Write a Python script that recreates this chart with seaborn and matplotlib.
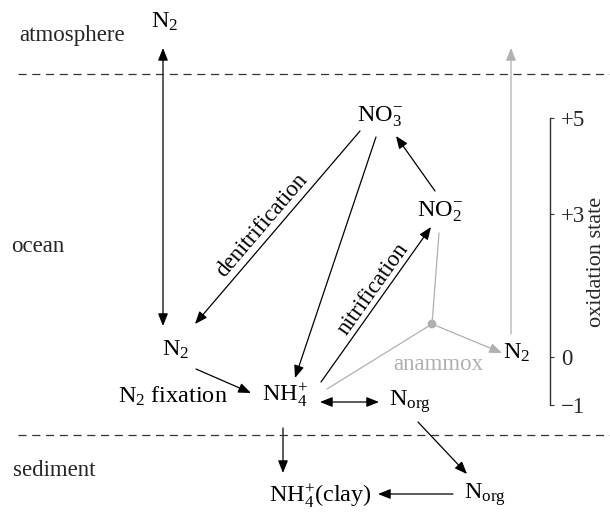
import matplotlib
matplotlib.use("Agg")
import matplotlib.pyplot as plt
import seaborn as sns
from matplotlib.patches import FancyArrowPatch

sns.set_theme(style="white")
plt.rcParams['font.family'] = ['Liberation Serif', 'DejaVu Serif']
plt.rcParams['mathtext.fontset'] = 'custom'
plt.rcParams['mathtext.rm'] = 'Liberation Serif'
plt.rcParams['mathtext.it'] = 'Liberation Serif:italic'
plt.rcParams['mathtext.bf'] = 'Liberation Serif:bold'

# -----------------------------
# DATA
# -----------------------------

# Layers of the system
layer_names = ["atmosphere", "ocean", "sediment"]
layer_x = [72, 38, 54]
layer_y = [35, 246, 470]
boundary_y = [74, 435]

# Nitrogen species (labels and where they sit)
species_labels = [r"$\mathrm{N_2}$", r"$\mathrm{NO_3^{-}}$", r"$\mathrm{NO_2^{-}}$",
                  r"$\mathrm{N_2}$", r"$\mathrm{N_2}$", r"$\mathrm{NH_4^{+}}$",
                  r"$\mathrm{N_{org}}$", r"$\mathrm{NH_4^{+}}$(clay)", r"$\mathrm{N_{org}}$",
                  r"$\mathrm{N_2}$ fixation"]
species_x = [165, 380, 440, 176, 517, 285, 410, 320, 485, 173]
species_y = [22, 117, 212, 350, 353, 395, 402, 496, 495, 396]

# Processes: start, end, style, colour
arrow_x0 = [163, 360, 376, 435, 321, 196, 320, 283, 418, 453, 432, 511]
arrow_y0 = [48, 131, 137, 191, 382, 369, 402, 428, 422, 494, 324, 334]
arrow_x1 = [163, 195, 295, 396, 431, 251, 379, 283, 467, 378, 502, 511]
arrow_y1 = [326, 324, 378, 136, 227, 393, 402, 473, 474, 494, 353, 48]
arrow_both = [True, False, False, False, False, False, True, False, False, False, False, False]
arrow_grey = [False] * 10 + [True, True]

# Anammox branch (grey lines into the node)
anammox_node = (432, 324)
anammox_src_x = [439, 327]
anammox_src_y = [233, 389]

# Process names along arrows
process_names = ["denitrification", "nitrification", "anammox"]
process_x = [262, 373, 438]
process_y = [225, 289, 364]
process_rot = [49.5, 54.6, 0]

# Oxidation-state scale
ox_states = [-1, 0, 3, 5]
ox_labels = ["\u22121", "0", "+3", "+5"]

black = "#000000"
grey = "#b0b0b0"
fs = 16.5
fs_species = 17.5

# -----------------------------
# FIGURE
# -----------------------------

fig = plt.figure(figsize=(6.1, 5.12), dpi=100)
ax = fig.add_axes([0, 0, 1, 1])
ax.set_xlim(0, 610)
ax.set_ylim(512, 0)
ax.axis("off")

# boundaries
for y in boundary_y:
    ax.plot([18, 610], [y, y], color="#333333", lw=0.9, ls=(0, (6.5, 4.5)))

# layer names
for name, x, y in zip(layer_names, layer_x, layer_y):
    ax.text(x, y, name, fontsize=fs, ha="center", va="center")

# arrows
for x0, y0, x1, y1, both, is_grey in zip(arrow_x0, arrow_y0, arrow_x1, arrow_y1,
                                          arrow_both, arrow_grey):
    style = "<|-|>" if both else "-|>"
    col = grey if is_grey else black
    arr = FancyArrowPatch((x0, y0), (x1, y1), arrowstyle=style + ",head_length=0.75,head_width=0.3",
                          mutation_scale=10, color=col, lw=0.9,
                          shrinkA=0, shrinkB=0)
    ax.add_patch(arr)

# anammox branch
for sx, sy in zip(anammox_src_x, anammox_src_y):
    ax.plot([sx, anammox_node[0]], [sy, anammox_node[1]], color=grey, lw=0.9)
sns.scatterplot(x=[anammox_node[0]], y=[anammox_node[1]], color=grey, s=40,
                edgecolor="none", ax=ax, zorder=5)

# species
for lab, x, y in zip(species_labels, species_x, species_y):
    ax.text(x, y, lab, fontsize=fs_species, ha="center", va="center", color=black)

# process names
for name, x, y, r in zip(process_names, process_x, process_y, process_rot):
    col = grey if name == "anammox" else black
    ax.text(x, y, name, fontsize=fs, ha="center", va="center", rotation=r,
            rotation_mode="anchor", color=col)

# oxidation state scale
top_px, bot_px = 118, 405
ax2 = fig.add_axes([550 / 610 - 0.001, 1 - bot_px / 512, 0.001, (bot_px - top_px) / 512])
ax2.set_ylim(-1, 5)
ax2.set_xticks([])
for s in ["left", "top", "bottom"]:
    ax2.spines[s].set_visible(False)
ax2.spines["right"].set_visible(True)
ax2.spines["right"].set_color("#333333")
ax2.spines["right"].set_linewidth(1.0)
ax2.patch.set_alpha(0)
ax2.yaxis.tick_right()
ax2.yaxis.set_label_position("right")
ax2.set_yticks(ox_states)
ax2.set_yticklabels(ox_labels)
ax2.tick_params(axis="y", right=True, left=False, direction="out", length=3, width=0.8,
                color="#333333", pad=5, labelsize=fs)
ax2.set_ylabel("oxidation state", fontsize=16, labelpad=1, rotation=90)

fig.savefig("out.png", dpi=100)
